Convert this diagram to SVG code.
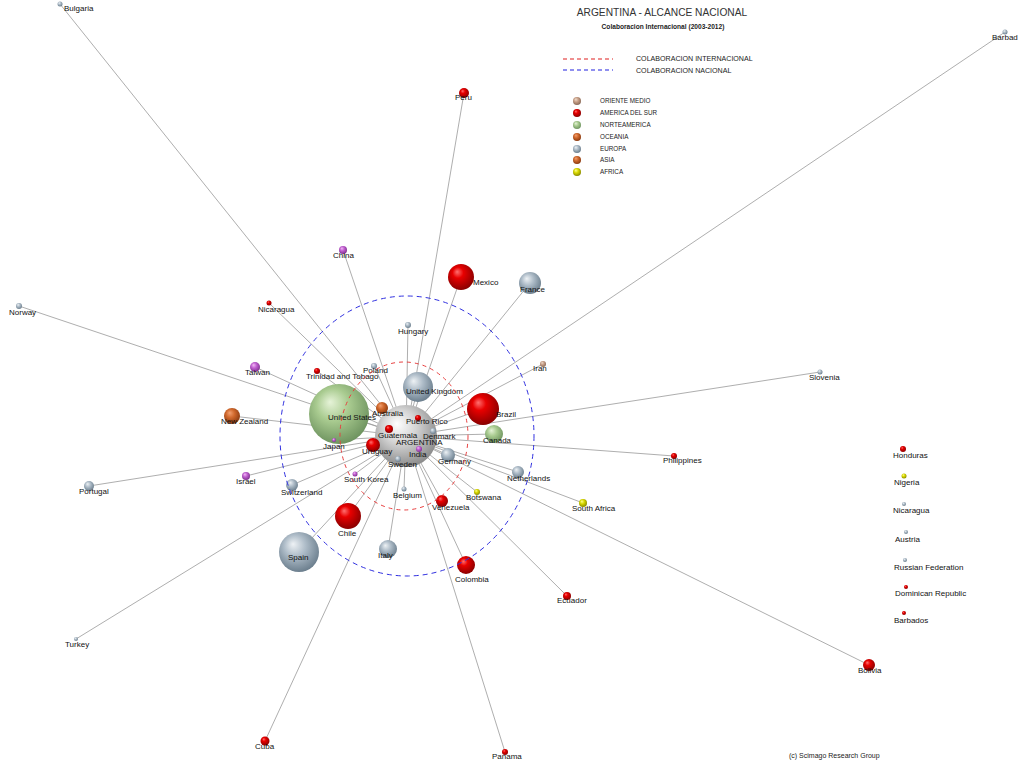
<svg xmlns="http://www.w3.org/2000/svg" width="1024" height="768" viewBox="0 0 1024 768">
<style>
text{font-family:"Liberation Sans",Arial,sans-serif;fill:#111}
.lb{font-size:8px}
.lg{font-size:6.3px;fill:#222}
#edges line{stroke:#999;stroke-width:0.8}
</style>
<defs>
<radialGradient id="gRed" cx="0.45" cy="0.4" r="0.6" fx="0.35" fy="0.3"><stop offset="0" stop-color="#ff7070"/><stop offset="0.35" stop-color="#e80000"/><stop offset="1" stop-color="#8a0000"/></radialGradient>
<radialGradient id="gGray" cx="0.45" cy="0.4" r="0.6" fx="0.35" fy="0.3"><stop offset="0" stop-color="#eef2f5"/><stop offset="0.45" stop-color="#aebcc8"/><stop offset="1" stop-color="#6c7f8e"/></radialGradient>
<radialGradient id="gGreen" cx="0.45" cy="0.4" r="0.6" fx="0.35" fy="0.3"><stop offset="0" stop-color="#e6f3d8"/><stop offset="0.45" stop-color="#a9cb90"/><stop offset="1" stop-color="#6f9460"/></radialGradient>
<radialGradient id="gOrange" cx="0.45" cy="0.4" r="0.6" fx="0.35" fy="0.3"><stop offset="0" stop-color="#f2a070"/><stop offset="0.45" stop-color="#d0682c"/><stop offset="1" stop-color="#8a3a10"/></radialGradient>
<radialGradient id="gPurple" cx="0.45" cy="0.4" r="0.6" fx="0.35" fy="0.3"><stop offset="0" stop-color="#f4b8f6"/><stop offset="0.45" stop-color="#c060d0"/><stop offset="1" stop-color="#803090"/></radialGradient>
<radialGradient id="gYellow" cx="0.45" cy="0.4" r="0.6" fx="0.35" fy="0.3"><stop offset="0" stop-color="#ffff90"/><stop offset="0.45" stop-color="#d8d800"/><stop offset="1" stop-color="#8a8a00"/></radialGradient>
<radialGradient id="gTan" cx="0.45" cy="0.4" r="0.6" fx="0.35" fy="0.3"><stop offset="0" stop-color="#f0dccc"/><stop offset="0.45" stop-color="#c8a088"/><stop offset="1" stop-color="#8a6a58"/></radialGradient>
<radialGradient id="gSilver" cx="0.45" cy="0.4" r="0.6" fx="0.35" fy="0.3"><stop offset="0" stop-color="#ffffff"/><stop offset="0.45" stop-color="#d4d4d4"/><stop offset="1" stop-color="#8c8c8c"/></radialGradient>
</defs>
<rect width="1024" height="768" fill="#fff"/>

<g id="edges">
<line x1="406" y1="436" x2="60" y2="4"/>
<line x1="406" y1="436" x2="1005" y2="32"/>
<line x1="406" y1="436" x2="464" y2="93"/>
<line x1="406" y1="436" x2="343" y2="250"/>
<line x1="406" y1="436" x2="461" y2="277"/>
<line x1="406" y1="436" x2="530" y2="283"/>
<line x1="406" y1="436" x2="269" y2="303"/>
<line x1="406" y1="436" x2="408" y2="325"/>
<line x1="406" y1="436" x2="19" y2="306"/>
<line x1="406" y1="436" x2="543" y2="364"/>
<line x1="406" y1="436" x2="820" y2="372"/>
<line x1="406" y1="436" x2="255" y2="367"/>
<line x1="406" y1="436" x2="317" y2="371"/>
<line x1="406" y1="436" x2="374" y2="366"/>
<line x1="406" y1="436" x2="418" y2="387"/>
<line x1="406" y1="436" x2="483" y2="409"/>
<line x1="406" y1="436" x2="339" y2="414"/>
<line x1="406" y1="436" x2="382" y2="408"/>
<line x1="406" y1="436" x2="232" y2="416"/>
<line x1="406" y1="436" x2="494" y2="434"/>
<line x1="406" y1="436" x2="334" y2="440"/>
<line x1="406" y1="436" x2="373" y2="445"/>
<line x1="406" y1="436" x2="448" y2="455"/>
<line x1="406" y1="436" x2="674" y2="456"/>
<line x1="406" y1="436" x2="246" y2="476"/>
<line x1="406" y1="436" x2="355" y2="474"/>
<line x1="406" y1="436" x2="518" y2="472"/>
<line x1="406" y1="436" x2="89" y2="486"/>
<line x1="406" y1="436" x2="292" y2="485"/>
<line x1="406" y1="436" x2="477" y2="492"/>
<line x1="406" y1="436" x2="404" y2="489"/>
<line x1="406" y1="436" x2="442" y2="501"/>
<line x1="406" y1="436" x2="583" y2="503"/>
<line x1="406" y1="436" x2="348" y2="516"/>
<line x1="406" y1="436" x2="299" y2="552"/>
<line x1="406" y1="436" x2="388" y2="549"/>
<line x1="406" y1="436" x2="466" y2="565"/>
<line x1="406" y1="436" x2="567" y2="596"/>
<line x1="406" y1="436" x2="76" y2="639"/>
<line x1="406" y1="436" x2="869" y2="665"/>
<line x1="406" y1="436" x2="265" y2="741"/>
<line x1="406" y1="436" x2="505" y2="752"/>
</g>

<g id="title">
<text x="662" y="16" text-anchor="middle" style="font-size:10.2px;fill:#333">ARGENTINA - ALCANCE NACIONAL</text>
<text x="663" y="29" text-anchor="middle" style="font-size:6.6px;font-weight:bold;fill:#222">Colaboracion Internacional (2003-2012)</text>
</g>

<g id="legend">
<line x1="563" y1="59" x2="613" y2="59" stroke="#e02020" stroke-width="1.2" stroke-dasharray="4 3"/>
<text x="636" y="61" style="font-size:7.1px;fill:#222">COLABORACION INTERNACIONAL</text>
<line x1="563" y1="70" x2="613" y2="70" stroke="#2020e0" stroke-width="1.2" stroke-dasharray="4 3"/>
<text x="636" y="73" style="font-size:7.1px;fill:#222">COLABORACION NACIONAL</text>
<circle cx="577" cy="101" r="4" fill="url(#gTan)"/><text class="lg" x="600" y="103">ORIENTE MEDIO</text>
<circle cx="577" cy="113" r="4" fill="url(#gRed)"/><text class="lg" x="600" y="115">AMERICA DEL SUR</text>
<circle cx="577" cy="125" r="4" fill="url(#gGreen)"/><text class="lg" x="600" y="127">NORTEAMERICA</text>
<circle cx="577" cy="137" r="4" fill="url(#gOrange)"/><text class="lg" x="600" y="139">OCEANIA</text>
<circle cx="577" cy="149" r="4" fill="url(#gGray)"/><text class="lg" x="600" y="151">EUROPA</text>
<circle cx="577" cy="160" r="4" fill="url(#gOrange)"/><text class="lg" x="600" y="162">ASIA</text>
<circle cx="577" cy="172" r="4" fill="url(#gYellow)"/><text class="lg" x="600" y="174">AFRICA</text>
</g>

<g id="n-bulgaria"><circle cx="60" cy="4" r="2.5" fill="url(#gGray)"/><text class="lb" x="64" y="11">Bulgaria</text></g>
<g id="n-barbad"><circle cx="1005" cy="32" r="2.5" fill="url(#gGray)"/><text class="lb" x="992" y="40">Barbad</text></g>
<g id="n-peru"><circle cx="464" cy="93" r="5" fill="url(#gRed)"/><text class="lb" x="455" y="100">Peru</text></g>
<g id="n-china"><circle cx="343" cy="250" r="4" fill="url(#gPurple)"/><text class="lb" x="333" y="258">China</text></g>
<g id="n-mexico"><circle cx="461" cy="277" r="13" fill="url(#gRed)"/><text class="lb" x="473" y="285">Mexico</text></g>
<g id="n-france"><circle cx="530" cy="283" r="11" fill="url(#gGray)"/><text class="lb" x="520" y="292">France</text></g>
<g id="n-nicaragua-a"><circle cx="269" cy="303" r="2.5" fill="url(#gRed)"/><text class="lb" x="258" y="312">Nicaragua</text></g>
<g id="n-hungary"><circle cx="408" cy="325" r="3" fill="url(#gGray)"/><text class="lb" x="398" y="334">Hungary</text></g>
<g id="n-norway"><circle cx="19" cy="306" r="3" fill="url(#gGray)"/><text class="lb" x="9" y="315">Norway</text></g>
<g id="n-iran"><circle cx="543" cy="364" r="3" fill="url(#gTan)"/><text class="lb" x="533" y="371">Iran</text></g>
<g id="n-slovenia"><circle cx="820" cy="372" r="2.5" fill="url(#gGray)"/><text class="lb" x="809" y="380">Slovenia</text></g>
<g id="n-taiwan"><circle cx="255" cy="367" r="5" fill="url(#gPurple)"/><text class="lb" x="245" y="375">Taiwan</text></g>
<g id="n-trinidad"><circle cx="317" cy="371" r="3" fill="url(#gRed)"/><text class="lb" x="306" y="379">Trinidad and Tobago</text></g>
<g id="n-poland"><circle cx="374" cy="366" r="3" fill="url(#gGray)"/><text class="lb" x="363" y="373">Poland</text></g>
<g id="n-us"><circle cx="339" cy="414" r="30" fill="url(#gGreen)"/><text class="lb" x="328" y="420">United States</text></g>
<g id="n-argentina"><circle cx="406" cy="436" r="31" fill="url(#gSilver)"/><text class="lb" x="396" y="445">ARGENTINA</text></g>
<g id="n-uk"><circle cx="418" cy="387" r="15" fill="url(#gGray)"/><text class="lb" x="406" y="394">United Kingdom</text></g>
<g id="n-brazil"><circle cx="483" cy="409" r="16" fill="url(#gRed)"/><text class="lb" x="496" y="417">Brazil</text></g>
<g id="n-australia"><circle cx="382" cy="408" r="6" fill="url(#gOrange)"/><text class="lb" x="372" y="416">Australia</text></g>
<g id="n-puertorico"><circle cx="418" cy="418" r="3" fill="url(#gRed)"/><text class="lb" x="406" y="424">Puerto Rico</text></g>
<g id="n-newzealand"><circle cx="232" cy="416" r="8" fill="url(#gOrange)"/><text class="lb" x="221" y="424">New Zealand</text></g>
<g id="n-guatemala"><circle cx="389" cy="429" r="4" fill="url(#gRed)"/><text class="lb" x="378" y="438">Guatemala</text></g>
<g id="n-denmark"><circle cx="433" cy="431" r="3" fill="url(#gGray)"/><text class="lb" x="423" y="439">Denmark</text></g>
<g id="n-canada"><circle cx="494" cy="434" r="9" fill="url(#gGreen)"/><text class="lb" x="483" y="443">Canada</text></g>
<g id="n-japan"><circle cx="334" cy="440" r="2" fill="url(#gPurple)"/><text class="lb" x="323" y="449">Japan</text></g>
<g id="n-uruguay"><circle cx="373" cy="445" r="7" fill="url(#gRed)"/><text class="lb" x="362" y="454">Uruguay</text></g>
<g id="n-india"><circle cx="419" cy="449" r="3" fill="url(#gPurple)"/><text class="lb" x="409" y="457">India</text></g>
<g id="n-germany"><circle cx="448" cy="455" r="7" fill="url(#gGray)"/><text class="lb" x="438" y="464">Germany</text></g>
<g id="n-sweden"><circle cx="398" cy="459" r="3" fill="url(#gGray)"/><text class="lb" x="388" y="467">Sweden</text></g>
<g id="n-philippines"><circle cx="674" cy="456" r="3" fill="url(#gRed)"/><text class="lb" x="663" y="463">Philippines</text></g>
<g id="n-israel"><circle cx="246" cy="476" r="4" fill="url(#gPurple)"/><text class="lb" x="236" y="484">Israel</text></g>
<g id="n-southkorea"><circle cx="355" cy="474" r="2.5" fill="url(#gPurple)"/><text class="lb" x="344" y="482">South Korea</text></g>
<g id="n-netherlands"><circle cx="518" cy="472" r="6" fill="url(#gGray)"/><text class="lb" x="507" y="481">Netherlands</text></g>
<g id="n-portugal"><circle cx="89" cy="486" r="5" fill="url(#gGray)"/><text class="lb" x="79" y="494">Portugal</text></g>
<g id="n-switzerland"><circle cx="292" cy="485" r="6" fill="url(#gGray)"/><text class="lb" x="281" y="495">Switzerland</text></g>
<g id="n-botswana"><circle cx="477" cy="492" r="3" fill="url(#gYellow)"/><text class="lb" x="466" y="500">Botswana</text></g>
<g id="n-belgium"><circle cx="404" cy="489" r="2.5" fill="url(#gGray)"/><text class="lb" x="393" y="498">Belgium</text></g>
<g id="n-venezuela"><circle cx="442" cy="501" r="6" fill="url(#gRed)"/><text class="lb" x="432" y="510">Venezuela</text></g>
<g id="n-southafrica"><circle cx="583" cy="503" r="4" fill="url(#gYellow)"/><text class="lb" x="572" y="511">South Africa</text></g>
<g id="n-chile"><circle cx="348" cy="516" r="13" fill="url(#gRed)"/><text class="lb" x="338" y="536">Chile</text></g>
<g id="n-spain"><circle cx="299" cy="552" r="20" fill="url(#gGray)"/><text class="lb" x="288" y="560">Spain</text></g>
<g id="n-italy"><circle cx="388" cy="549" r="9" fill="url(#gGray)"/><text class="lb" x="378" y="558">Italy</text></g>
<g id="n-colombia"><circle cx="466" cy="565" r="9" fill="url(#gRed)"/><text class="lb" x="455" y="582">Colombia</text></g>
<g id="n-ecuador"><circle cx="567" cy="596" r="4" fill="url(#gRed)"/><text class="lb" x="557" y="603">Ecuador</text></g>
<g id="n-turkey"><circle cx="76" cy="639" r="2" fill="url(#gGray)"/><text class="lb" x="65" y="647">Turkey</text></g>
<g id="n-bolivia"><circle cx="869" cy="665" r="6" fill="url(#gRed)"/><text class="lb" x="858" y="673">Bolivia</text></g>
<g id="n-cuba"><circle cx="265" cy="741" r="4.5" fill="url(#gRed)"/><text class="lb" x="255" y="749">Cuba</text></g>
<g id="n-panama"><circle cx="505" cy="752" r="3" fill="url(#gRed)"/><text class="lb" x="492" y="759">Panama</text></g>

<g id="n-honduras"><circle cx="903" cy="449" r="3" fill="url(#gRed)"/><text class="lb" x="893" y="458">Honduras</text></g>
<g id="n-nigeria"><circle cx="904" cy="476" r="2.5" fill="url(#gYellow)"/><text class="lb" x="894" y="485">Nigeria</text></g>
<g id="n-nicaragua-b"><circle cx="904" cy="504" r="2" fill="url(#gGray)"/><text class="lb" x="893" y="513">Nicaragua</text></g>
<g id="n-austria"><circle cx="906" cy="532" r="2" fill="url(#gGray)"/><text class="lb" x="895" y="542">Austria</text></g>
<g id="n-russia"><circle cx="905" cy="560" r="2" fill="url(#gGray)"/><text class="lb" x="894" y="570">Russian Federation</text></g>
<g id="n-dominican"><circle cx="906" cy="587" r="2" fill="url(#gRed)"/><text class="lb" x="895" y="596">Dominican Republic</text></g>
<g id="n-barbados"><circle cx="904" cy="613" r="2" fill="url(#gRed)"/><text class="lb" x="894" y="623">Barbados</text></g>

<g id="rings" fill="none" stroke-width="1">
<ellipse cx="404" cy="436" rx="64" ry="74" stroke="#e84040" stroke-dasharray="4 4"/>
<ellipse cx="407" cy="436" rx="127" ry="140" stroke="#3030e0" stroke-dasharray="5 4"/>
</g>

<text x="789" y="758" style="font-size:7px;fill:#222">(c) Scimago Research Group</text>
</svg>
